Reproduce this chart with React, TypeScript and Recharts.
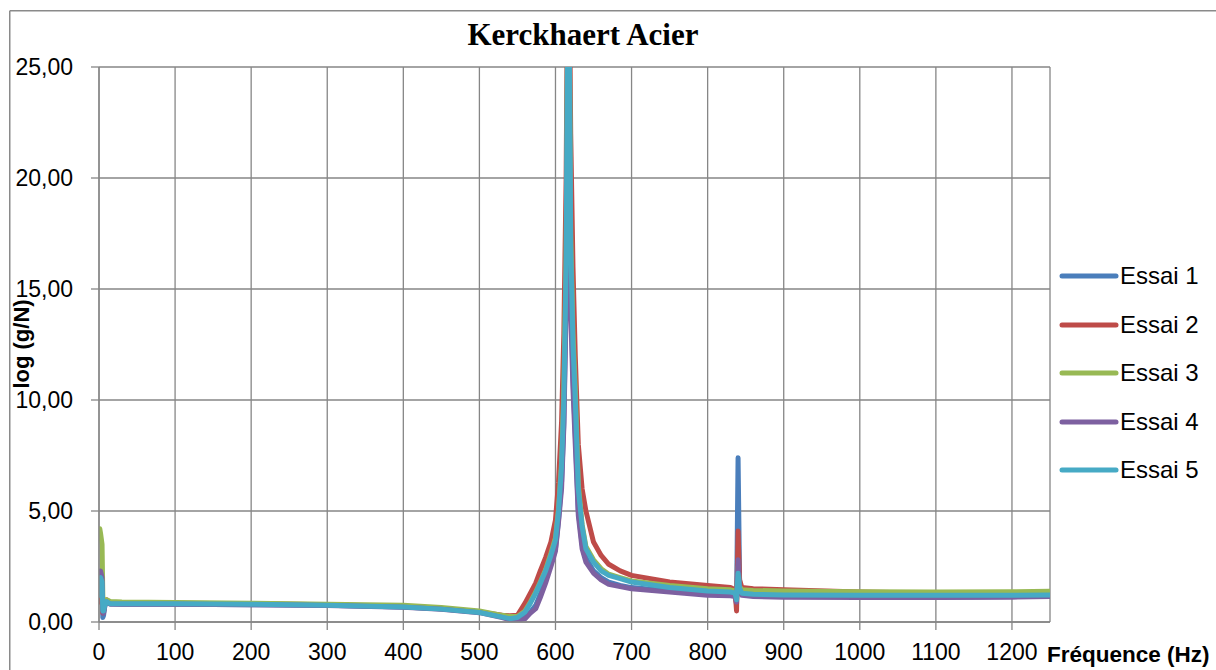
import React from 'react';
import { LineChart, Line, XAxis, YAxis, CartesianGrid } from 'recharts';

const frequencies = [1, 2, 4, 5, 6, 8, 10, 15, 30, 100, 200, 300, 400, 450, 500, 530, 540, 550, 560, 567, 574, 580, 587, 594, 600, 604, 608, 611, 614, 617, 620, 623, 626, 630, 635, 640, 650, 660, 670, 685, 700, 750, 800, 830, 836, 838, 840, 842, 845, 860, 900, 1000, 1100, 1200, 1250];

const essai1 = [1.0, 1.9, 1.5, 0.2, 0.3, 0.8, 0.95, 0.82, 0.8, 0.8, 0.78, 0.75, 0.68, 0.6, 0.45, 0.25, 0.15, 0.1, 0.2, 0.45, 0.75, 1.25, 1.9, 2.6, 3.3, 4.6, 6.3, 9, 15, 32, 15, 11, 8.5, 5, 3.5, 2.9, 2.3, 2.0, 1.8, 1.65, 1.55, 1.4, 1.3, 1.25, 1.2, 0.8, 7.4, 1.8, 1.3, 1.2, 1.18, 1.15, 1.12, 1.15, 1.2];
const essai2 = [0.9, 1.6, 1.2, 0.4, 0.5, 0.85, 1.0, 0.88, 0.85, 0.85, 0.82, 0.78, 0.7, 0.6, 0.45, 0.3, 0.28, 0.3, 0.85, 1.3, 1.75, 2.3, 2.9, 3.6, 4.6, 6.3, 9, 13, 20, 34, 22, 16, 12, 8, 6, 5, 3.6, 3.0, 2.6, 2.3, 2.1, 1.8, 1.65, 1.55, 1.45, 0.5, 4.1, 1.9, 1.55, 1.5, 1.45, 1.35, 1.3, 1.28, 1.3];
const essai3 = [4.2, 4.0, 3.5, 1.2, 0.7, 0.9, 1.0, 0.92, 0.9, 0.88, 0.85, 0.8, 0.75, 0.65, 0.5, 0.3, 0.25, 0.25, 0.5, 0.9, 1.35, 1.8, 2.35, 3.1, 3.8, 5.1, 7.2, 10.5, 16.5, 32, 17.5, 13, 10.5, 6.2, 4.4, 3.4, 2.8, 2.4, 2.15, 2.0, 1.85, 1.65, 1.5, 1.45, 1.4, 1.0, 2.5, 1.6, 1.45, 1.42, 1.4, 1.36, 1.35, 1.36, 1.38];
const essai4 = [1.5, 2.3, 2.0, 0.5, 0.4, 0.8, 0.9, 0.8, 0.8, 0.8, 0.78, 0.74, 0.66, 0.57, 0.42, 0.2, 0.1, 0.08, 0.15, 0.4, 0.6, 1.1, 1.75, 2.5, 3.2, 4.5, 6, 8.8, 14, 30, 14, 10.5, 8, 4.8, 3.3, 2.7, 2.2, 1.9, 1.7, 1.6, 1.5, 1.35, 1.2, 1.18, 1.15, 0.9, 2.8, 1.5, 1.2, 1.15, 1.12, 1.1, 1.1, 1.12, 1.15];
const essai5 = [1.2, 2.0, 1.8, 0.5, 0.5, 0.8, 0.92, 0.82, 0.82, 0.82, 0.8, 0.76, 0.68, 0.58, 0.43, 0.22, 0.15, 0.2, 0.45, 0.85, 1.3, 1.75, 2.3, 3.0, 3.7, 5.0, 7, 10, 16, 32, 17, 12.5, 10, 6, 4.3, 3.3, 2.7, 2.3, 2.1, 1.95, 1.8, 1.55, 1.4, 1.35, 1.3, 1.0, 2.2, 1.5, 1.3, 1.25, 1.22, 1.2, 1.2, 1.2, 1.22];

const xTicks = [0, 100, 200, 300, 400, 500, 600, 700, 800, 900, 1000, 1100, 1200];
const yTicks = [0, 5, 10, 15, 20, 25];

const seriesNames = ['Essai 1', 'Essai 2', 'Essai 3', 'Essai 4', 'Essai 5'];
const seriesKeys = ['e1', 'e2', 'e3', 'e4', 'e5'];
const seriesColors = ['#4A7EBB', '#BE4B48', '#98B954', '#7D60A0', '#46AAC5'];

const titleText = 'Kerckhaert Acier';
const xLabel = 'Fréquence (Hz)';
const yLabel = 'log (g/N)';

const data = frequencies.map((f, i) => ({
  f,
  e1: essai1[i],
  e2: essai2[i],
  e3: essai3[i],
  e4: essai4[i],
  e5: essai5[i],
}));

const GRID = '#868686';
const FONT = '"Liberation Sans", Arial, sans-serif';

const fmt = (v: number) => v.toFixed(2).replace('.', ',');

export default function App() {
  return (
    <div style={{ position: 'absolute', left: 0, top: 0, width: 1216, height: 670, background: '#fff', overflow: 'hidden' }}>
      <LineChart width={1216} height={670} data={data} margin={{ top: 67, right: 166, bottom: 0, left: 0 }}>
        <CartesianGrid stroke={GRID} strokeWidth={1.3} />
        <XAxis
          dataKey="f"
          type="number"
          domain={[0, 1250]}
          ticks={xTicks}
          interval={0}
          allowDataOverflow
          height={48}
          tickSize={8}
          tickMargin={14}
          axisLine={{ stroke: GRID, strokeWidth: 1.3 }}
          tickLine={{ stroke: GRID, strokeWidth: 1.3 }}
          tick={{ fill: '#000', fontSize: 23, fontFamily: FONT }}
        />
        <YAxis
          type="number"
          domain={[0, 25]}
          ticks={yTicks}
          interval={0}
          allowDataOverflow
          width={99}
          tickSize={8}
          tickMargin={18}
          tickFormatter={fmt}
          axisLine={{ stroke: GRID, strokeWidth: 1.3 }}
          tickLine={{ stroke: GRID, strokeWidth: 1.3 }}
          tick={{ fill: '#000', fontSize: 23, fontFamily: FONT }}
        />
        {seriesKeys.map((k, i) => (
          <Line
            key={k}
            type="linear"
            dataKey={k}
            name={seriesNames[i]}
            stroke={seriesColors[i]}
            strokeWidth={5}
            strokeLinejoin="round"
            strokeLinecap="round"
            dot={false}
            activeDot={false}
            isAnimationActive={false}
          />
        ))}
      </LineChart>
      <div style={{ position: 'absolute', left: 1059, top: 252, width: 156, display: 'flex', flexDirection: 'column' }}>
        {seriesNames.map((n, i) => (
          <div key={n} style={{ height: 48.5, display: 'flex', alignItems: 'center' }}>
            <svg width={60} height={10} style={{ display: 'block' }}>
              <line x1={3} y1={5} x2={57} y2={5} stroke={seriesColors[i]} strokeWidth={5} strokeLinecap="round" />
            </svg>
            <span style={{ fontFamily: FONT, fontSize: 24, color: '#000', marginLeft: 1, lineHeight: '24px' }}>{n}</span>
          </div>
        ))}
      </div>
      <svg width={1216} height={670} style={{ position: 'absolute', left: 0, top: 0, pointerEvents: 'none' }}>
        <line x1={9.75} y1={10.75} x2={1216} y2={10.75} stroke="#8a8a8a" strokeWidth={1.5} />
        <line x1={9.75} y1={10.75} x2={9.75} y2={670} stroke="#8a8a8a" strokeWidth={1.5} />
        <text x={583} y={45} textAnchor="middle" fontFamily='"Liberation Serif", "Times New Roman", serif' fontWeight="bold" fontSize={31} fill="#000">{titleText}</text>
        <text x={1047} y={662} fontFamily={FONT} fontWeight="bold" fontSize={22.5} fill="#000">{xLabel}</text>
        <text x={0} y={0} transform="translate(29 344) rotate(-90)" textAnchor="middle" fontFamily={FONT} fontWeight="bold" fontSize={22} fill="#000">{yLabel}</text>
      </svg>
    </div>
  );
}
